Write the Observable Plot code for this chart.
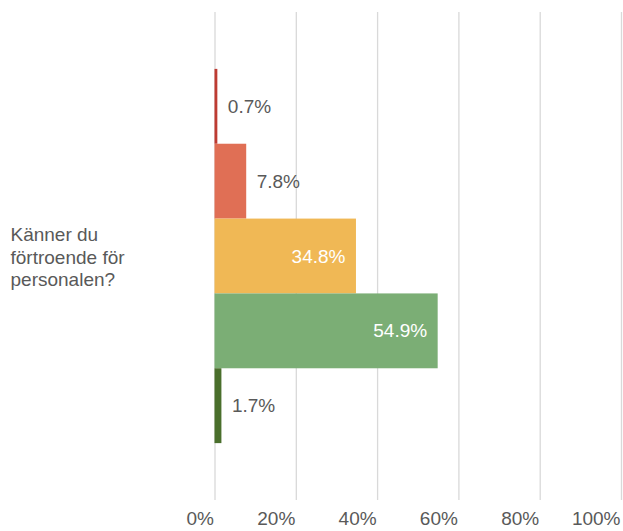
<!DOCTYPE html>
<html>
<head>
<meta charset="utf-8">
<script src="https://cdn.jsdelivr.net/npm/d3@7"></script>
<script src="https://cdn.jsdelivr.net/npm/@observablehq/plot@0.6"></script>
<style>
  html, body { margin: 0; padding: 0; background: #fff; }
</style>
</head>
<body>
<div id="chart"></div>
<script>
const question = ["Känner du förtroende för personalen?"];
const responses = ["Nej, inte alls", "Nej, inte särskilt", "Ja, ganska", "Ja, helt", "Vet ej"];
const values = [0.7, 7.8, 34.8, 54.9, 1.7];
const colors = ["#BE3B32", "#E06F55", "#F0B855", "#7BAE75", "#4A6F2C"];
const xTicks = [0, 20, 40, 60, 80, 100];

const data = responses.map((r, i) => ({question: question[0], response: r, value: values[i]}));
const fmt = d => d.value.toFixed(1) + "%";
const insideThreshold = 20;

const chart = Plot.plot({
  width: 623,
  height: 531,
  marginLeft: 214.5,
  marginRight: 2,
  marginTop: 12,
  marginBottom: 31,
  style: {fontFamily: "'Liberation Sans', Arial, sans-serif", fontSize: "19px", background: "#fff"},
  x: {domain: [0, 100]},
  y: {domain: responses, paddingInner: 0, paddingOuter: 0.76, round: false, axis: null},
  color: {domain: responses, range: colors},
  marks: [
    Plot.gridX(xTicks, {stroke: "#d9d9d9", strokeOpacity: 1, strokeWidth: 1.3}),
    Plot.barX(data, {x: "value", y: "response", fill: "response"}),
    Plot.text(data.filter(d => d.value <= insideThreshold), {
      x: "value", y: "response", text: fmt, textAnchor: "start", dx: 10,
      fill: "#595959", fontSize: 19
    }),
    Plot.text(data.filter(d => d.value > insideThreshold), {
      x: "value", y: "response", text: fmt, textAnchor: "end", dx: -11,
      fill: "#ffffff", fontSize: 19
    }),
    Plot.axisX({
      ticks: xTicks, tickFormat: d => d + "%", tickSize: 0, tickPadding: 11,
      textAnchor: "end", dx: -1, fill: "#595959", fontSize: 19, label: null
    }),
    Plot.text(question, {
      frameAnchor: "left", text: d => d, textAnchor: "start", dx: -204.5,
      lineWidth: 7.5, lineHeight: 1.18, fill: "#595959", fontSize: 19
    })
  ]
});
document.getElementById("chart").appendChild(chart);
</script>
</body>
</html>
